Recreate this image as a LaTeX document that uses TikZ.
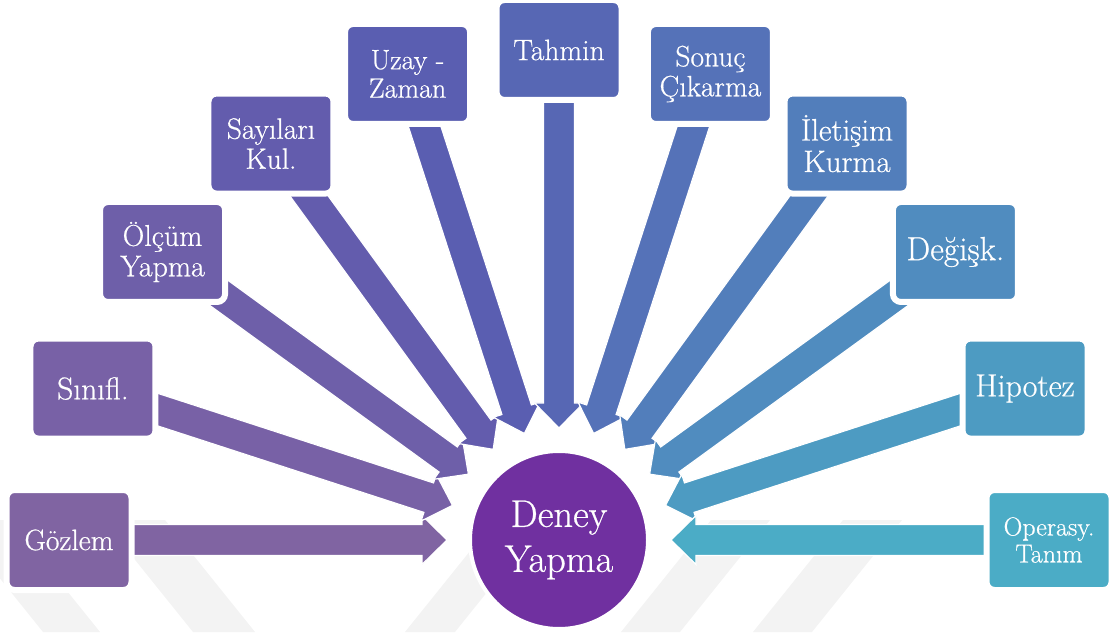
\documentclass[tikz,border=0pt]{standalone}
\usepackage{fontspec}
\setmainfont{Latin Modern Roman}[FakeBold=0.6]
\usetikzlibrary{calc}
\pgfdeclarelayer{background}
\pgfsetlayers{background,main}

% purple-to-teal ramp for the eleven skills
\definecolor{c0}{RGB}{128,100,162}
\definecolor{c1}{RGB}{120,97,166}
\definecolor{c2}{RGB}{110,95,169}
\definecolor{c3}{RGB}{99,92,173}
\definecolor{c4}{RGB}{90,94,177}
\definecolor{c5}{RGB}{87,103,180}
\definecolor{c6}{RGB}{85,114,184}
\definecolor{c7}{RGB}{82,126,187}
\definecolor{c8}{RGB}{80,140,191}
\definecolor{c9}{RGB}{77,155,194}
\definecolor{c10}{RGB}{75,172,198}
\definecolor{hubcol}{RGB}{112,48,160}
\definecolor{wmark}{RGB}{243,243,243}

\newcommand\setsz[2]{\fontsize{#1pt}{#2pt}\selectfont}

\tikzset{
  skillbox/.style={rectangle, rounded corners=8pt, minimum width=125pt,
    minimum height=100pt, inner sep=0pt, draw=white, line width=6pt,
    text=white, align=center},
  hubnode/.style={circle, minimum size=178pt, inner sep=0pt, draw=white,
    line width=4pt, fill=hubcol, text=white, align=center,
    font=\setsz{38.5}{45}},
  % block arrow from a box centre to a tip point
  fatarrow/.style={draw=white, line width=1.2pt, line join=miter,
    to path={
      ($(\tikztostart)!15.5pt!-90:(\tikztotarget)$) --
      ($(\tikztotarget)!25pt!(\tikztostart)!15.5pt!90:(\tikztostart)$) --
      ($(\tikztotarget)!25pt!(\tikztostart)!24.5pt!90:(\tikztostart)$) --
      (\tikztotarget) --
      ($(\tikztotarget)!25pt!(\tikztostart)!24.5pt!-90:(\tikztostart)$) --
      ($(\tikztotarget)!25pt!(\tikztostart)!15.5pt!-90:(\tikztostart)$) --
      ($(\tikztostart)!15.5pt!90:(\tikztotarget)$) -- cycle}},
  wmband/.style={fill=wmark, draw=none}
}

\begin{document}
\begin{tikzpicture}[x=1pt,y=1pt]
\useasboundingbox (0,0) rectangle (1113,632);
\coordinate (ctr) at (559,92);

\node[hubnode] (hub) at (ctr) {Deney\\Yapma};

\node[skillbox, fill=c0,  font=\setsz{29.5}{30}]   (b0)  at ($(ctr)+(180:490)$) {Gözlem};
\node[skillbox, fill=c1,  font=\setsz{31.5}{32}]   (b1)  at ($(ctr)+(162:490)$) {Sınıfl.};
\node[skillbox, fill=c2,  font=\setsz{30}{30.5}]   (b2)  at ($(ctr)+(144:490)$) {Ölçüm\\Yapma};
\node[skillbox, fill=c3,  font=\setsz{29.5}{30}]   (b3)  at ($(ctr)+(126:490)$) {Sayıları\\Kul.};
\node[skillbox, fill=c4,  font=\setsz{28}{28.5}]   (b4)  at ($(ctr)+(108:490)$) {Uzay -\\Zaman};
\node[skillbox, fill=c5,  font=\setsz{29.5}{30}]   (b5)  at ($(ctr)+(90:490)$)  {Tahmin};
\node[skillbox, fill=c6,  font=\setsz{29.5}{30}]   (b6)  at ($(ctr)+(72:490)$)  {Sonuç\\Çıkarma};
\node[skillbox, fill=c7,  font=\setsz{31}{31.5}]   (b7)  at ($(ctr)+(54:490)$)  {İletişim\\Kurma};
\node[skillbox, fill=c8,  font=\setsz{33.5}{34}]   (b8)  at ($(ctr)+(36:490)$)  {Değişk.};
\node[skillbox, fill=c9,  font=\setsz{32}{32.5}]   (b9)  at ($(ctr)+(18:490)$)  {Hipotez};
\node[skillbox, fill=c10, font=\setsz{26}{27}]     (b10) at ($(ctr)+(0:490)$)   {Operasy.\\Tanım};

% arrow tips on a ring around the hub
\foreach \i in {0,...,10}
  \coordinate (t\i) at ($(ctr)+(180-18*\i:112)$);

\begin{pgfonlayer}{background}
  % faint diagonal bands behind the lower part
  \foreach \xa/\xb in {43/100, 193/255}
    \path[wmband] (\xa-90,112) -- (\xb-90,112) -- (\xb,0) -- (\xa,0) -- cycle;
  \foreach \xa/\xb in {405/455, 621/680, 753/812}
    \path[wmband] (\xa,0) -- (\xb,0) -- (\xb+90,112) -- (\xa+90,112) -- cycle;
  % arrows into the hub
  \foreach \i in {0,...,10}
    \draw[fatarrow, fill=c\i] (b\i) to (t\i);
\end{pgfonlayer}
\end{tikzpicture}
\end{document}
